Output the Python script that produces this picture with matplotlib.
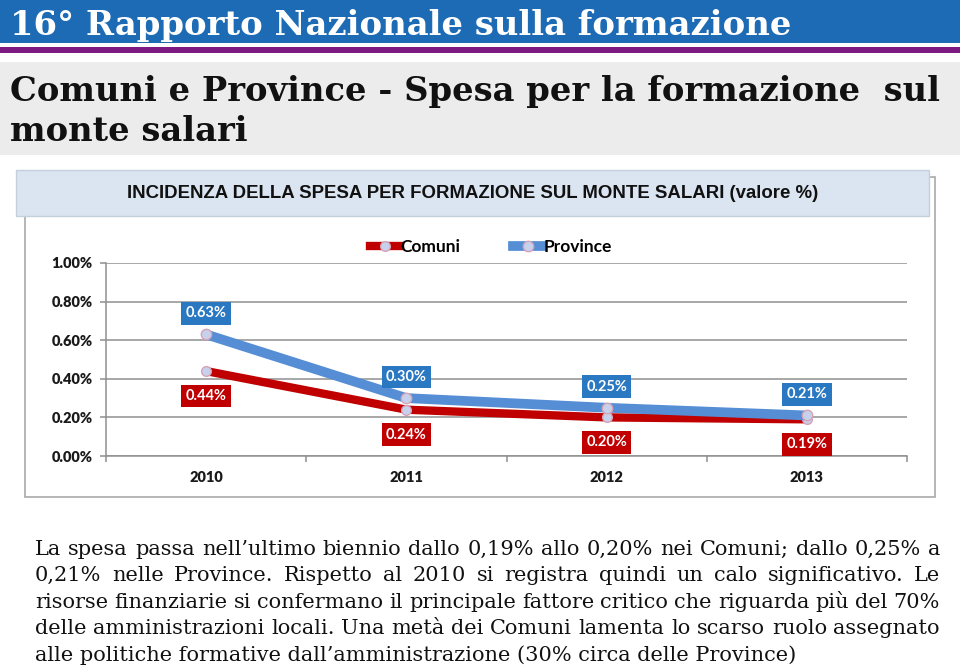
import matplotlib
matplotlib.use('Agg')
import matplotlib.pyplot as plt
from matplotlib.patches import Rectangle
from matplotlib.lines import Line2D
import numpy as np

# ---------------- data ----------------
years = ['2010', '2011', '2012', '2013']
comuni = [0.44, 0.24, 0.20, 0.19]
province = [0.63, 0.30, 0.25, 0.21]
yticks = [0.0, 0.2, 0.4, 0.6, 0.8, 1.0]
ytick_labels = ['0.00%', '0.20%', '0.40%', '0.60%', '0.80%', '1.00%']
series_names = ['Comuni', 'Province']

header = '16° Rapporto Nazionale sulla formazione'
subtitle_lines = ['Comuni e Province - Spesa per la formazione  sul', 'monte salari']
chart_title = 'INCIDENZA DELLA SPESA PER FORMAZIONE SUL MONTE SALARI (valore %)'
body_lines = [
    'La spesa  passa nell\u2019ultimo biennio dallo 0,19% allo 0,20% nei Comuni; dallo 0,25% a',
    '0,21% nelle Province. Rispetto al 2010 si registra quindi un calo significativo. Le',
    'risorse finanziarie si confermano il principale fattore critico che riguarda più del 70%',
    'delle amministrazioni locali. Una metà dei Comuni lamenta lo scarso ruolo assegnato',
    'alle politiche formative dall\u2019amministrazione (30% circa delle Province)',
]

# ---------------- style ----------------
RED = '#c00000'
BLUE = '#558ed5'
BLUE_BOX = '#2b78c2'
MFC = '#c8d1ec'
MEC = '#d4a3b8'
GRID = '#8f8f8f'
SANS = ['Lato', 'DejaVu Sans']
SERIF = ['DejaVu Serif']

W, H = 960, 666
fig = plt.figure(figsize=(W / 100, H / 100), dpi=100)
fig.patch.set_facecolor('white')
renderer = fig.canvas.get_renderer()


def fx(x):
    return x / W


def fy(y):
    return 1 - y / H


def rect(x0, y0, x1, y1, **kw):
    r = Rectangle((fx(x0), fy(y1)), (x1 - x0) / W, (y1 - y0) / H,
                  transform=fig.transFigure, zorder=-5, **kw)
    fig.add_artist(r)
    return r


def fit_text(x, y, s, target_w, **kw):
    t = fig.text(fx(x), fy(y), s, fontsize=20, **kw)
    w = t.get_window_extent(renderer).width
    t.set_fontsize(20 * target_w / w)
    return t


# ---------------- slide decorations ----------------
rect(0, 0, W, 43, fc='#1d6bb4', lw=0)
rect(0, 47, W, 53, fc='#7d1a82', lw=0)
rect(0, 62, W, 155, fc='#ececec', lw=0)

fit_text(10, 35, header, 783, color='white', family=SERIF,
         fontweight='bold', va='baseline', ha='left')
t1 = fit_text(10, 101, subtitle_lines[0], 932, color='#111111', family=SERIF,
              fontweight='bold', va='baseline', ha='left')
fig.text(fx(10), fy(141), subtitle_lines[1], fontsize=t1.get_fontsize(),
         color='#111111', family=SERIF, fontweight='bold', va='baseline', ha='left')

# chart panel
rect(25, 177, 935, 497, fc='white', ec='#a9a9a9', lw=1.2)
rect(16, 170, 929, 216, fc='#dbe5f1', ec='#c5d0dd', lw=1.0)
fit_text(127, 198, chart_title, 691, color='#111111',
         family=['Liberation Sans', 'DejaVu Sans'], fontweight='bold',
         va='baseline', ha='left')

# ---------------- chart ----------------
ax = fig.add_axes([fx(106), fy(456), (907 - 106) / W, (456 - 263) / H])
ax.set_zorder(2)
ax.set_facecolor('none')
x = np.arange(len(years))
ax.plot(x, comuni, color=RED, lw=6.0, marker='o', ms=7, mfc=MFC, mec=MEC,
        mew=1.0, zorder=3, solid_capstyle='butt')
ax.plot(x, province, color=BLUE, lw=7.0, marker='o', ms=7.5, mfc=MFC, mec=MEC,
        mew=1.0, zorder=4, solid_capstyle='butt')

ax.set_xlim(-0.5, len(years) - 0.5)
ax.set_ylim(0, 1.0)
ax.set_yticks(yticks)
ax.set_yticklabels(ytick_labels)
ax.set_xticks(x)
ax.set_xticklabels(years)
ax.set_xticks(np.arange(-0.5, len(years), 1.0), minor=True)
ax.tick_params(axis='x', which='major', length=0, pad=11)
ax.tick_params(axis='x', which='minor', length=4, color=GRID, width=1.1, direction='out')
ax.tick_params(axis='y', length=4.3, color=GRID, width=1.1, pad=5.5)
for lab in ax.get_xticklabels() + ax.get_yticklabels():
    lab.set_fontfamily(SANS)
    lab.set_fontweight('heavy')
    lab.set_fontsize(10.5)
    lab.set_color('#1a1a1a')
ax.grid(axis='y', color=GRID, lw=1.1)
ax.set_axisbelow(True)
for s in ['top', 'right']:
    ax.spines[s].set_visible(False)
for s in ['left', 'bottom']:
    ax.spines[s].set_color(GRID)
    ax.spines[s].set_linewidth(1.1)

for xi, v in zip(x, province):
    ax.annotate(f'{v:.2f}%', (xi, v), xytext=(0, 21), textcoords='offset pixels',
                ha='center', va='center', color='white', fontsize=10.5,
                fontweight='bold', family=SANS, zorder=6,
                bbox=dict(boxstyle='square,pad=0.3', fc=BLUE_BOX, ec='none'))
for xi, v in zip(x, comuni):
    ax.annotate(f'{v:.2f}%', (xi, v), xytext=(0, -25), textcoords='offset pixels',
                ha='center', va='center', color='white', fontsize=10.5,
                fontweight='bold', family=SANS, zorder=6,
                bbox=dict(boxstyle='square,pad=0.3', fc=RED, ec='none'))

handles = [
    Line2D([], [], color=RED, lw=6.0, marker='o', ms=7, mfc=MFC, mec=MEC),
    Line2D([], [], color=BLUE, lw=7.0, marker='o', ms=7.5, mfc=MFC, mec=MEC),
]
leg = fig.legend(handles, series_names, loc='center', bbox_to_anchor=(fx(491), fy(247)),
                 bbox_transform=fig.transFigure, ncol=2, frameon=False,
                 handlelength=1.7, handletextpad=0.05, columnspacing=3.0,
                 prop=dict(family=SANS, weight='bold', size=12.5))
leg.set_zorder(5)

# ---------------- body text (justified) ----------------
X0, X1 = 35, 940
probe = fig.text(0, 0, body_lines[-1], fontsize=20, family=SERIF)
bsize = 20 * 760 / probe.get_window_extent(renderer).width
probe.remove()
baselines = [555, 581, 608, 634, 661]
for i, (line, yb) in enumerate(zip(body_lines, baselines)):
    last = i == len(body_lines) - 1
    if last:
        fig.text(fx(X0), fy(yb), line, fontsize=bsize, family=SERIF,
                 color='#111111', va='baseline', ha='left')
        continue
    words = line.split()
    texts = [fig.text(0, fy(yb), w, fontsize=bsize, family=SERIF, color='#111111',
                      va='baseline', ha='left') for w in words]
    widths = [t.get_window_extent(renderer).width for t in texts]
    gap = (X1 - X0 - sum(widths)) / (len(words) - 1)
    xp = X0
    for t, w in zip(texts, widths):
        t.set_x(fx(xp))
        xp += w + gap

fig.savefig('out.png', dpi=100)
